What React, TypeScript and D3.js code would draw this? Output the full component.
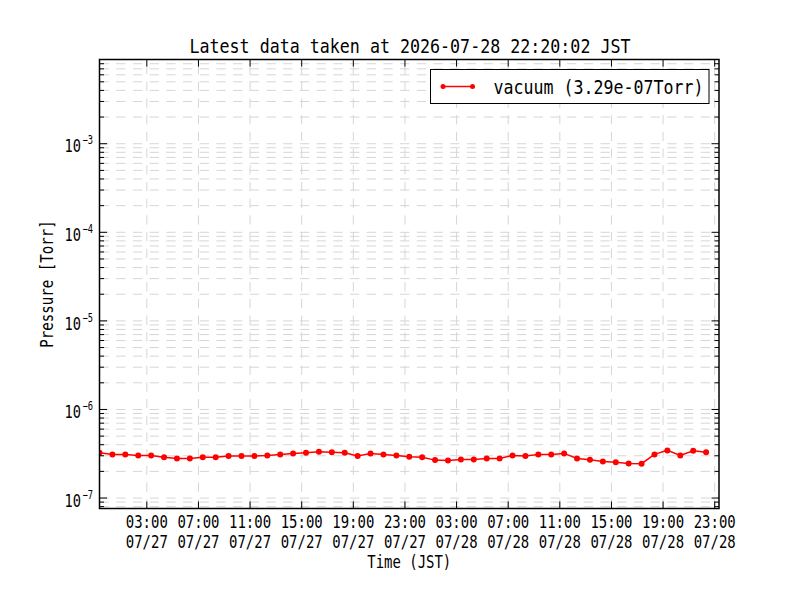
import * as d3 from 'd3';

// hourly samples, JST (treated as UTC so the labels do not depend on the machine zone)
const START = Date.UTC(2026, 6, 26, 23, 20, 2);
const vacuum = [
  3.24e-7, 3.11e-7, 3.11e-7, 3.03e-7, 3.03e-7, 2.88e-7, 2.8e-7, 2.8e-7,
  2.88e-7, 2.88e-7, 2.98e-7, 2.98e-7, 2.98e-7, 3.03e-7, 3.11e-7, 3.19e-7,
  3.24e-7, 3.33e-7, 3.28e-7, 3.24e-7, 2.98e-7, 3.19e-7, 3.11e-7, 3.03e-7,
  2.92e-7, 2.88e-7, 2.68e-7, 2.66e-7, 2.73e-7, 2.73e-7, 2.8e-7, 2.8e-7,
  3.03e-7, 2.98e-7, 3.11e-7, 3.11e-7, 3.19e-7, 2.8e-7, 2.7e-7, 2.59e-7,
  2.53e-7, 2.46e-7, 2.44e-7, 3.11e-7, 3.45e-7, 3.03e-7, 3.42e-7, 3.29e-7,
];
const yDomain = [7.62e-8, 8.93e-3];
const decades = [-8, -7, -6, -5, -4, -3, -2];
const title = 'Latest data taken at 2026-07-28 22:20:02 JST';
const legendLabel = 'vacuum (3.29e-07Torr)';

const W = 800;
const H = 600;
const L = 99.5, R = 719, T = 59.5, B = 508.5;
const FONT = '"DejaVu Sans Mono", monospace';
const DASH = '9.3 7.4';

function Txt({ x, y, size, len, anchor = 'start', transform, children }: any) {
  return (
    <text x={x} y={y} fontSize={size} fontFamily={FONT} textAnchor={anchor}
      textLength={len} lengthAdjust="spacingAndGlyphs" transform={transform} fill="#000">
      {children}
    </text>
  );
}

export default function App() {
  const points = vacuum.map((v, i) => ({ t: d3.utcHour.offset(new Date(START), i), v }));
  const x = d3.scaleUtc()
    .domain([new Date(START), d3.utcHour.offset(new Date(START), 48)])
    .range([L, R]);
  const y = d3.scaleLog().domain(yDomain).range([B, T]);

  const xTicks = d3.utcHour.range(x.domain()[0], x.domain()[1]).filter(d => d.getUTCHours() % 4 === 3);
  const fmtTime = d3.utcFormat('%H:%M');
  const fmtDay = d3.utcFormat('%m/%d');

  const yTicks: { v: number; major: boolean; e: number }[] = [];
  decades.forEach(e => {
    for (let m = 1; m <= 9; m++) {
      const v = m * Math.pow(10, e);
      if (v >= yDomain[0] && v <= yDomain[1]) yTicks.push({ v, major: m === 1, e });
    }
  });

  const line = d3.line<{ t: Date; v: number }>().x(d => x(d.t)).y(d => y(d.v));

  return (
    <svg width={W} height={H} style={{ position: 'absolute', left: 0, top: 0, background: '#fff' }}>
      <defs>
        <clipPath id="plot"><rect x={L} y={T} width={R - L} height={B - T} /></clipPath>
      </defs>
      <rect width={W} height={H} fill="#fff" />

      {/* grid */}
      {yTicks.map(d => (
        <line key={'gy' + d.v} x1={L} x2={R} y1={y(d.v)} y2={y(d.v)}
          stroke="#d6d6d6" strokeWidth={1} strokeDasharray={DASH} />
      ))}
      {xTicks.map(d => (
        <line key={'gx' + d.getTime()} x1={x(d)} x2={x(d)} y1={B} y2={T}
          stroke="#d6d6d6" strokeWidth={1} strokeDasharray={DASH} />
      ))}

      {/* data */}
      <g clipPath="url(#plot)">
        <path d={line(points) || ''} fill="none" stroke="#ff0000" strokeWidth={1.5} />
        {points.map((d, i) => (
          <circle key={i} cx={x(d.t)} cy={y(d.v)} r={3} fill="#ff0000" />
        ))}
      </g>

      {/* ticks */}
      {yTicks.map(d => {
        const len = d.major ? 7.5 : 4.5;
        const py = y(d.v);
        return (
          <g key={'ty' + d.v} stroke="#000" strokeWidth={1}>
            <line x1={L} x2={L + len} y1={py} y2={py} />
            <line x1={R} x2={R - len} y1={py} y2={py} />
          </g>
        );
      })}
      {xTicks.map(d => (
        <g key={'tx' + d.getTime()} stroke="#000" strokeWidth={1}>
          <line x1={x(d)} x2={x(d)} y1={B} y2={B - 7} />
          <line x1={x(d)} x2={x(d)} y1={T} y2={T + 7} />
        </g>
      ))}

      <rect x={L} y={T} width={R - L} height={B - T} fill="none" stroke="#000" strokeWidth={1.5} />

      {/* y tick labels */}
      {yTicks.filter(d => d.major).map(d => {
        const py = y(d.v);
        return (
          <g key={'ly' + d.v}>
            <Txt x={64.5} y={py + 8.7} size={17} len={16.5}>10</Txt>
            <Txt x={82.5} y={py + 0.7} size={12} len={10.5}>{'\u2212' + Math.abs(d.e)}</Txt>
          </g>
        );
      })}

      {/* x tick labels */}
      {xTicks.map(d => (
        <g key={'lx' + d.getTime()}>
          <Txt x={x(d)} y={528.3} size={17} len={42} anchor="middle">{fmtTime(d)}</Txt>
          <Txt x={x(d)} y={548.3} size={17} len={42} anchor="middle">{fmtDay(d)}</Txt>
        </g>
      ))}

      <Txt x={(L + R) / 2} y={568.3} size={17} len={84} anchor="middle">Time (JST)</Txt>
      <Txt x={0} y={0} size={17} len={127.5} anchor="middle"
        transform={`translate(53,${(T + B) / 2}) rotate(-90)`}>Pressure [Torr]</Txt>
      <Txt x={410} y={52.7} size={20} len={441} anchor="middle">{title}</Txt>

      {/* legend */}
      <g>
        <rect x={430.5} y={69.5} width={278.5} height={34} fill="#fff" stroke="#000" strokeWidth={1} />
        <line x1={443} x2={472.5} y1={86.5} y2={86.5} stroke="#ff0000" strokeWidth={1.5} />
        <circle cx={443} cy={86.5} r={2.5} fill="#ff0000" />
        <circle cx={472.5} cy={86.5} r={2.5} fill="#ff0000" />
        <Txt x={493.5} y={94} size={19} len={210}>{legendLabel}</Txt>
      </g>
    </svg>
  );
}
